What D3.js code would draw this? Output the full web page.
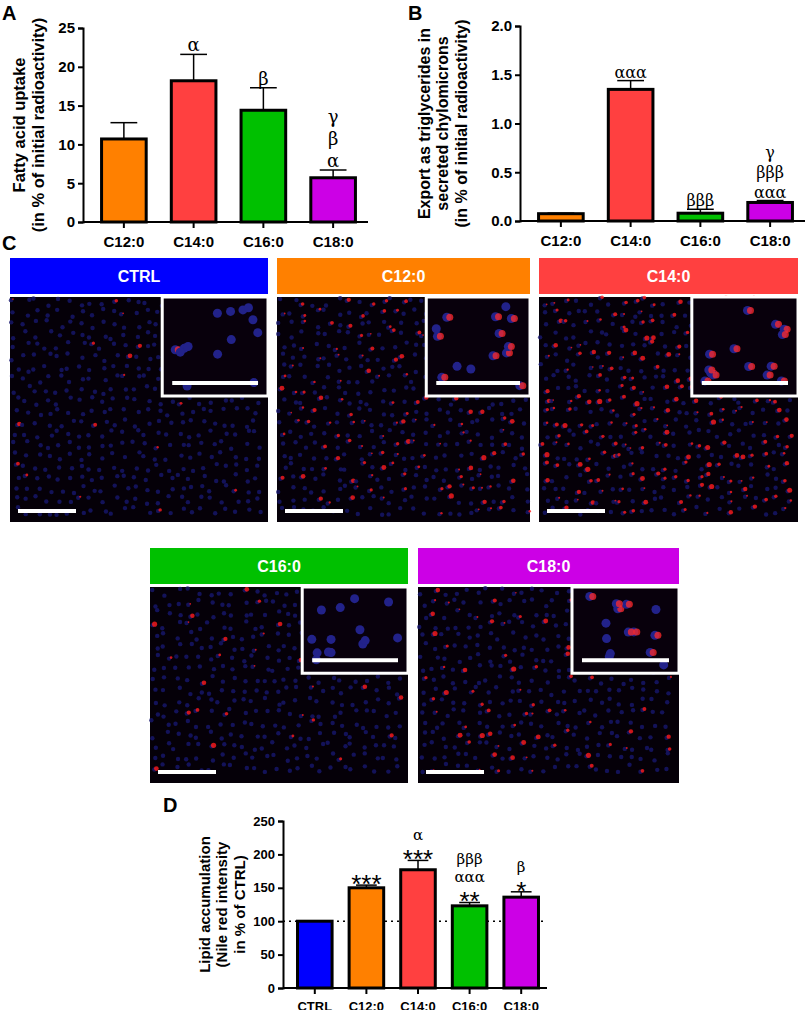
<!DOCTYPE html>
<html><head><meta charset="utf-8">
<script src="https://cdn.jsdelivr.net/npm/d3@7"></script>
<style>body{margin:0;background:#fff}svg{font-family:Arial,"Liberation Sans",sans-serif}</style>
</head><body><svg id="c" width="808" height="1010"></svg>
<script>
const groupsABC = ["C12:0","C14:0","C16:0","C18:0"];
const colorsABC = ["#ff8000","#ff4040","#00c000","#cc00e6"];
const uptakeMean = [10.7,18.2,14.4,5.7];
const uptakeErr = [2.1,3.4,2.9,1.0];
const uptakeSig = [[],["α"],["β"],["α","β","γ"]];
const exportMean = [0.075,1.35,0.08,0.19];
const exportErr = [0.005,0.09,0.04,0.02];
const exportSig = [[],["ααα"],["βββ"],["ααα","βββ","γ"]];
const groupsD = ["CTRL","C12:0","C14:0","C16:0","C18:0"];
const colorsD = ["#0000ff","#ff8000","#ff4040","#00c000","#cc00e6"];
const lipidMean = [100,150,177,123,136];
const lipidErr = [0,4,14,5,8];
const lipidSig = [[],["***"],["***","α"],["**","ααα","βββ"],["*","β"]];
const ticksA = [0,5,10,15,20,25];
const ticksB = [0,0.5,1.0,1.5,2.0];
const ticksD = [0,50,100,150,200,250];
const redDensity = [0.04,0.35,0.5,0.12,0.2];

const svg = d3.select("#c");

function barChart(o){
  const g = svg.append("g");
  const x = d3.scaleBand().domain(o.cats).range([o.x0+6,o.x1]).paddingInner(o.pad).paddingOuter(o.pad/2);
  const y = d3.scaleLinear().domain([0,o.max]).range([o.y0,o.y1]);
  const ya = g.append("g").attr("transform",`translate(${o.x0},0)`).call(d3.axisLeft(y).tickValues(o.ticks).tickFormat(o.fmt).tickSize(5));
  const xa = g.append("g").attr("transform",`translate(0,${o.y0})`).call(d3.axisBottom(x).tickSize(6));
  xa.select(".domain").attr("d",`M${o.x0},0H${o.x1}`);
  [ya,xa].forEach(a=>{a.selectAll("path,line").attr("stroke","#000").attr("stroke-width",2);
    a.selectAll("text").attr("font-weight","bold").attr("font-size",o.fs).attr("fill","#000");});
  xa.selectAll("text").attr("dy","1.05em");
  o.means.forEach((m,i)=>{
    const cx = x(o.cats[i])+x.bandwidth()/2;
    if(o.errs[i]>0){
      g.append("line").attr("x1",cx).attr("x2",cx).attr("y1",y(m)).attr("y2",y(m+o.errs[i])).attr("stroke","#000").attr("stroke-width",1.5);
      g.append("line").attr("x1",cx-x.bandwidth()*0.3).attr("x2",cx+x.bandwidth()*0.3).attr("y1",y(m+o.errs[i])).attr("y2",y(m+o.errs[i])).attr("stroke","#000").attr("stroke-width",1.5);
    }
    g.append("rect").attr("x",x(o.cats[i])).attr("y",y(m)).attr("width",x.bandwidth()).attr("height",o.y0-y(m))
      .attr("fill",o.colors[i]).attr("stroke","#000").attr("stroke-width",3);
    let ty = y(m+o.errs[i])-3;
    o.sig[i].forEach(s=>{
      const star = s.includes("*");
      g.append("text").attr("x",cx).attr("y",star?ty+11:ty).attr("text-anchor","middle")
        .attr("font-family",star?"Arial":"DejaVu Serif,serif").attr("font-size",star?26:o.sfs).text(s);
      ty -= star?17:o.sstep;
    });
  });
  const lab = g.append("text").attr("transform",`translate(${o.lx},${(o.y0+o.y1)/2}) rotate(-90)`)
    .attr("text-anchor","middle").attr("font-weight","bold").attr("font-size",o.lfs);
  o.label.forEach((t,i)=>lab.append("tspan").attr("x",0).attr("dy",i?o.lfs*1.15:0).text(t));
  if(o.ref){g.append("line").attr("x1",o.x0).attr("x2",o.x1).attr("y1",y(o.ref)).attr("y2",y(o.ref))
    .attr("stroke","#000").attr("stroke-width",1.5).attr("stroke-dasharray","2,4").lower();}
  return g;
}

barChart({cats:groupsABC,colors:colorsABC,means:uptakeMean,errs:uptakeErr,sig:uptakeSig,max:25,ticks:ticksA,fmt:d3.format("d"),
  x0:83,x1:368,y0:222,y1:28,pad:0.36,fs:15,sfs:18,sstep:22,lx:25,lfs:16.5,label:["Fatty acid uptake","(in % of initial radioactivity)"]});
barChart({cats:groupsABC,colors:colorsABC,means:exportMean,errs:exportErr,sig:exportSig,max:2,ticks:ticksB,fmt:d3.format(".1f"),
  x0:520,x1:805,y0:221,y1:26,pad:0.36,fs:15,sfs:16,sstep:20,lx:430,lfs:16,label:["Export as triglycerides in","secreted chylomicrons","(in % of initial radioactivity)"]});
barChart({cats:groupsD,colors:colorsD,means:lipidMean,errs:lipidErr,sig:lipidSig,max:250,ticks:ticksD,fmt:d3.format("d"),
  x0:283,x1:547,y0:988,y1:821,pad:0.33,fs:13,sfs:15,sstep:18,lx:210,lfs:15,ref:100,label:["Lipid accumulation","(Nile red intensity","in % of CTRL)"]});

[["A",2,20],["B",408,20],["C",2,250],["D",163,812]].forEach(([t,x,y])=>svg.append("text").attr("x",x).attr("y",y).attr("font-size",20).attr("font-weight","bold").text(t));

const panels = [
 {name:"CTRL",x:10,y:258,w:258,c:colorsD[0],d:redDensity[0]},
 {name:"C12:0",x:277,y:258,w:253,c:colorsD[1],d:redDensity[1]},
 {name:"C14:0",x:539,y:258,w:259,c:colorsD[2],d:redDensity[2]},
 {name:"C16:0",x:150,y:548,w:258,c:colorsD[3],d:redDensity[3]},
 {name:"C18:0",x:418,y:548,w:261,c:colorsD[4],d:redDensity[4]}];
function hash(a,b){let h=Math.sin(a*12.9898+b*78.233)*43758.5453;return h-Math.floor(h);}
panels.forEach((p,pi)=>{
  const g=svg.append("g");
  g.append("rect").attr("x",p.x).attr("y",p.y).attr("width",p.w).attr("height",36).attr("fill",p.c);
  g.append("text").attr("x",p.x+p.w/2).attr("y",p.y+24).attr("text-anchor","middle").attr("fill","#fff").attr("font-weight","bold").attr("font-size",16).text(p.name);
  const iy=p.y+39, ih=p.y<500?225:196;
  g.append("rect").attr("x",p.x).attr("y",iy).attr("width",p.w).attr("height",ih).attr("fill","#050008");
  const cg=g.append("g");
  for(let i=0;i<Math.floor(p.w/11);i++)for(let j=0;j<Math.floor(ih/11);j++){
    const h1=hash(i+pi*100,j), h2=hash(j+pi*37,i+3);
    const cx=p.x+i*11+5+(h1-0.5)*8, cy=iy+j*11+5+(h2-0.5)*8;
    cg.append("circle").attr("cx",cx).attr("cy",cy).attr("r",2.2).attr("fill","#16166e").attr("opacity",0.8);
    if(hash(i*3+pi,j*7)<p.d) cg.append("circle").attr("cx",cx+2).attr("cy",cy-1).attr("r",0.8+hash(i,j+pi)*1.8).attr("fill","#ff1a1a").attr("opacity",0.8);
  }
  const iw=p.w*0.41, ihh=ih*0.44;
  g.append("rect").attr("x",p.x+p.w-iw).attr("y",iy).attr("width",iw).attr("height",ihh).attr("fill","#08000c").attr("stroke","#fff").attr("stroke-width",3);
  for(let k=0;k<14;k++){
    const cx=p.x+p.w-iw+8+hash(k,pi+5)*(iw-16), cy=iy+8+hash(pi+9,k)*(ihh-16);
    g.append("circle").attr("cx",cx).attr("cy",cy).attr("r",4.5).attr("fill","#22228a");
    if(hash(k+2,pi*3)<p.d*2) g.append("circle").attr("cx",cx+3).attr("cy",cy).attr("r",3.5).attr("fill","#ff2a2a").attr("opacity",0.75);
  }
  g.append("rect").attr("x",p.x+p.w-iw+10).attr("y",iy+ihh-15).attr("width",iw-20).attr("height",4).attr("fill","#fff");
  g.append("rect").attr("x",p.x+8).attr("y",iy+ih-13).attr("width",58).attr("height",4).attr("fill","#fff");
});
</script></body></html>
